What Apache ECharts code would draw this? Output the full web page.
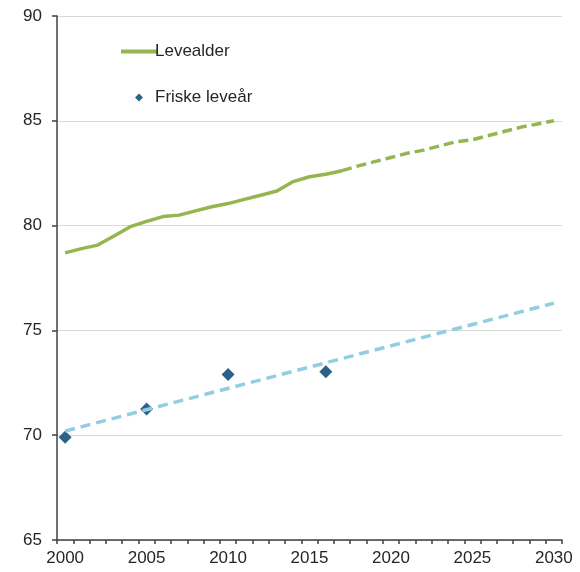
<!DOCTYPE html>
<html>
<head>
<meta charset="utf-8">
<script src="https://cdn.jsdelivr.net/npm/echarts@6/dist/echarts.min.js"></script>
<style>html,body{margin:0;padding:0;background:#fff;}#c{width:580px;height:572px;}</style>
</head>
<body>
<div id="c"></div>
<script>
// Categories (years 2000..2030)
var years = ['2000','2001','2002','2003','2004','2005','2006','2007','2008','2009','2010',
             '2011','2012','2013','2014','2015','2016','2017','2018','2019','2020',
             '2021','2022','2023','2024','2025','2026','2027','2028','2029','2030'];
// Levealder observed (2000..2017)
var levealderObserved = [78.7, 78.9, 79.07, 79.5, 79.95, 80.2, 80.43, 80.5, 80.7, 80.9, 81.05,
                         81.25, 81.45, 81.65, 82.1, 82.33, 82.45, 82.62];
// Levealder projection (2017..2030)
var levealderProjection = [82.62, 82.85, 83.05, 83.25, 83.45, 83.6, 83.8, 84.0, 84.1, 84.3, 84.5, 84.7, 84.85, 85.0];
var projectionStart = 17;
// Friske leveår points
var friskeYears = ['2000','2005','2010','2016'];
var friskeValues = [69.9, 71.25, 72.9, 73.03];
// Trend line for Friske leveår
var trendYears = ['2000','2030'];
var trendValues = [70.2, 76.3];
// Y axis ticks
var yMin = 65, yMax = 90, yStep = 5;

var solidData = years.map(function(y, i){ return i < levealderObserved.length ? levealderObserved[i] : null; });
var dashData = years.map(function(y, i){ var k = i - projectionStart; return (k >= 0 && k < levealderProjection.length) ? levealderProjection[k] : null; });
var friskeData = friskeYears.map(function(y, i){ return [y, friskeValues[i]]; });
var trendData = trendYears.map(function(y, i){ return [y, trendValues[i]]; });

var green = '#93b64e', blueDark = '#2b6288', blueLight = '#93cde0';
var txt = '#262626', axisCol = '#404040';
var font = 'Liberation Sans, Arial, sans-serif';

var chart = echarts.init(document.getElementById('c'), null, {renderer: 'canvas'});
chart.setOption({
  animation: false,
  backgroundColor: '#fff',
  grid: {left: 57, right: 18, top: 16, bottom: 32, containLabel: false},
  legend: {
    orient: 'vertical', left: 116, top: 38,
    itemWidth: 36, itemHeight: 8, itemGap: 29,
    symbolKeepAspect: true,
    data: [
      {name: 'Levealder', icon: 'path://M0,0h36v4h-36z'},
      {name: 'Friske leveår', icon: 'path://M5,0L10,5L5,10L0,5Z'}
    ],
    textStyle: {fontSize: 17, color: txt, fontFamily: font, padding: [0, 0, 0, -7]}
  },
  xAxis: {
    type: 'category', data: years, boundaryGap: true,
    axisLine: {lineStyle: {color: axisCol, width: 1.5}},
    axisTick: {show: true, interval: 0, length: 4, lineStyle: {color: axisCol, width: 1.5}},
    axisLabel: {interval: 4, fontSize: 17, color: txt, fontFamily: font, margin: 10},
    splitLine: {show: false}
  },
  yAxis: {
    type: 'value', min: yMin, max: yMax, interval: yStep,
    axisLine: {show: true, lineStyle: {color: axisCol, width: 1.5}},
    axisTick: {show: true, length: 5, lineStyle: {color: axisCol, width: 1.5}},
    axisLabel: {fontSize: 17, color: txt, fontFamily: font, margin: 15},
    splitLine: {show: true, lineStyle: {color: '#d9d9d9', width: 1}}
  },
  series: [
    {name: 'Levealder', type: 'line', data: solidData, symbol: 'none', connectNulls: false,
     lineStyle: {color: green, width: 3.5}, itemStyle: {color: green}},
    {name: 'Levealder prognose', type: 'line', data: dashData, symbol: 'none',
     lineStyle: {color: green, width: 3.5, type: [10, 5]}, itemStyle: {color: green}},
    {name: 'Friske leveår', type: 'scatter', data: friskeData, symbol: 'diamond', symbolSize: 13,
     itemStyle: {color: blueDark, opacity: 1}},
    {name: 'Friske trend', type: 'line', data: trendData, symbol: 'none',
     lineStyle: {color: blueLight, width: 3.5, type: [10, 6]}, itemStyle: {color: blueLight}}
  ]
});
</script>
</body>
</html>
